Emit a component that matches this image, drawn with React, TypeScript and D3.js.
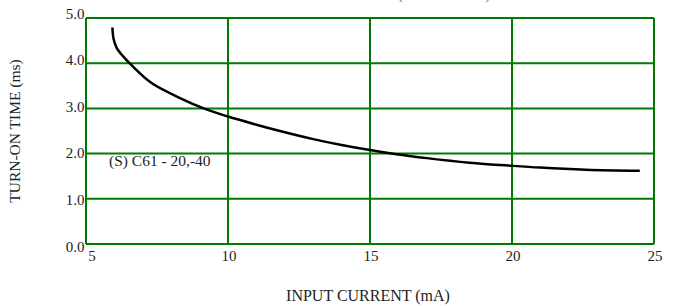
import React from "react";
import * as d3 from "d3";

const xTicks = [5, 10, 15, 20, 25];
const yTicks = [0, 1, 2, 3, 4, 5];
const yTickLabels = ["0.0", "1.0", "2.0", "3.0", "4.0", "5.0"];
const currentMA = [5.93, 5.97, 6.08, 6.31, 6.55, 7.31, 8.31, 9.19, 10.0, 11.0, 11.83, 13.0, 14.0, 15.0, 16.0, 17.0, 18.5, 20.0, 21.0, 22.6, 24.5];
const turnOnMs = [4.79, 4.54, 4.34, 4.15, 3.99, 3.56, 3.23, 2.99, 2.82, 2.64, 2.5, 2.32, 2.19, 2.08, 1.98, 1.9, 1.8, 1.73, 1.69, 1.645, 1.62];
const curveLabel = "(S) C61 - 20,-40";
const xTitle = "INPUT CURRENT (mA)";
const yTitle = "TURN-ON TIME (ms)";
const topTitle = "(TA = +25 °C)";

const W = 673;
const H = 306;
const M = { left: 86, right: 673 - 654, top: 18, bottom: 306 - 244 };
const GREEN = "#007a00";
const FONT = "Liberation Serif, DejaVu Serif, serif";

export default function App() {
  const x = d3.scaleLinear().domain([5, 25]).range([M.left, W - M.right]);
  const y = d3.scaleLinear().domain([0, 5]).range([H - M.bottom, M.top]);
  // tick labels in the reference drift slightly from the grid lines
  const yLab = d3.scaleLinear().domain([0, 5]).range([251.5, 18.5]);
  const pts: [number, number][] = currentMA.map((c, i) => [c, turnOnMs[i]]);
  const line = d3
    .line<[number, number]>()
    .x((d) => x(d[0]))
    .y((d) => y(d[1]))
    .curve(d3.curveCatmullRom.alpha(0.5));

  const tick = { fontFamily: FONT, fontSize: 15 } as React.CSSProperties;
  const lab = { fontFamily: FONT, fontSize: 15.5 } as React.CSSProperties;
  const ttl = { fontFamily: FONT, fontSize: 16 } as React.CSSProperties;

  return (
    <div style={{ position: "absolute", left: 0, top: 0 }}>
      <svg width={W} height={H} style={{ display: "block", background: "#fff", fontFamily: FONT }}>
        <text x={444} y={-1} style={ttl} textAnchor="middle" fill="#777">
          {topTitle}
        </text>
        {yTicks.map((t, i) => (
          <g key={"y" + t}>
            <line x1={x(5)} x2={x(25)} y1={y(t)} y2={y(t)} stroke={GREEN} strokeWidth={2} />
            <text x={M.left - 1.5} y={yLab(t)} style={tick} textAnchor="end" fill="#222">
              {yTickLabels[i]}
            </text>
          </g>
        ))}
        {xTicks.map((t) => (
          <g key={"x" + t}>
            <line x1={x(t)} x2={x(t)} y1={y(0)} y2={y(5)} stroke={GREEN} strokeWidth={2} />
            <text x={x(t) + (t === 5 ? 6 : 1)} y={261} style={tick} textAnchor="middle" fill="#222">
              {t}
            </text>
          </g>
        ))}
        <path d={line(pts) || ""} fill="none" stroke="#000" strokeWidth={2.5} />
        <text x={109} y={166} style={lab} fill="#222">
          {curveLabel}
        </text>
        <text x={368} y={301} style={ttl} textAnchor="middle" fill="#222">
          {xTitle}
        </text>
        <text transform={`translate(20, 131) rotate(-90)`} style={lab} textAnchor="middle" fill="#222">
          {yTitle}
        </text>
      </svg>
    </div>
  );
}
